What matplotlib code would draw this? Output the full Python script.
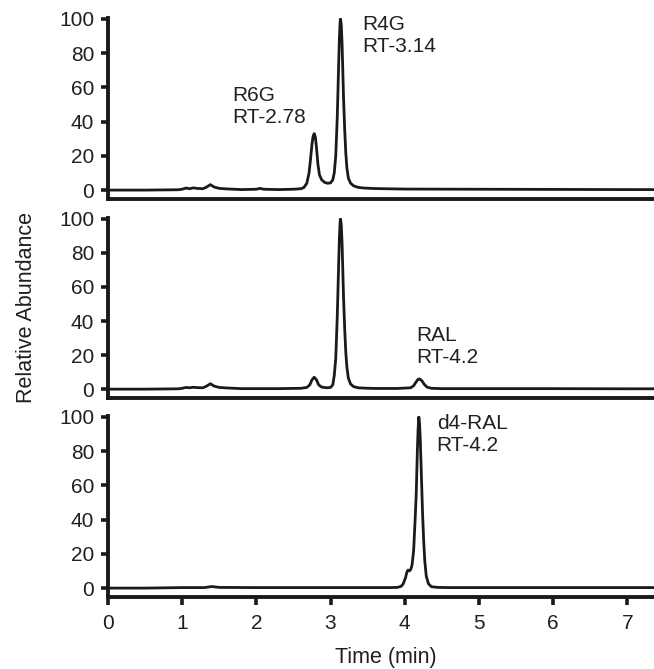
import matplotlib
matplotlib.use("Agg")
import matplotlib.pyplot as plt

# ---- data ----
t_top = [0.0, 0.5, 0.95, 1.0, 1.05, 1.1, 1.15, 1.2, 1.28, 1.33, 1.38, 1.43, 1.5, 1.6, 1.8, 2.0,
         2.05, 2.1, 2.3, 2.5, 2.6, 2.64, 2.68, 2.71, 2.73, 2.75, 2.765, 2.78, 2.795, 2.81,
         2.83, 2.85, 2.88, 2.92, 2.96, 3.0, 3.03, 3.05, 3.07, 3.09, 3.10, 3.11, 3.12, 3.13,
         3.135, 3.145, 3.155, 3.165, 3.175, 3.19, 3.205, 3.22, 3.24, 3.27, 3.31, 3.37, 3.45,
         3.6, 4.0, 5.0, 6.0, 7.0, 7.4]
y_top = [0.0, 0.0, 0.2, 0.5, 1.2, 0.8, 1.3, 1.0, 0.8, 1.8, 3.2, 1.8, 1.0, 0.7, 0.3, 0.5,
         1.0, 0.5, 0.3, 0.5, 0.8, 1.5, 4.0, 10.0, 18.0, 27.0, 31.5, 33.0, 31.0, 25.0,
         15.0, 9.0, 6.0, 4.5, 4.0, 4.2, 6.0, 10.0, 20.0, 42.0, 58.0, 75.0, 90.0, 99.0,
         100.0, 96.0, 86.0, 70.0, 54.0, 36.0, 22.0, 13.0, 7.0, 4.0, 2.5, 1.6, 1.2,
         0.9, 0.6, 0.5, 0.4, 0.3, 0.3]

t_mid = [0.0, 0.5, 0.95, 1.0, 1.05, 1.1, 1.15, 1.2, 1.28, 1.33, 1.38, 1.43, 1.5, 1.6, 1.8, 2.0,
         2.3, 2.6, 2.68, 2.72, 2.75, 2.78, 2.81, 2.84, 2.88, 2.95, 3.0, 3.03, 3.05, 3.07,
         3.09, 3.10, 3.11, 3.12, 3.13, 3.135, 3.145, 3.155, 3.165, 3.175, 3.19, 3.205, 3.22,
         3.24, 3.27, 3.31, 3.37, 3.45, 3.6, 3.9, 4.08, 4.12, 4.15, 4.18, 4.2, 4.23, 4.26,
         4.3, 4.36, 4.5, 5.0, 6.0, 7.0, 7.4]
y_mid = [0.0, 0.0, 0.2, 0.5, 1.0, 0.8, 1.1, 0.9, 0.8, 1.8, 3.2, 1.8, 1.0, 0.7, 0.3, 0.3,
         0.3, 0.5, 1.0, 2.5, 5.5, 7.0, 5.5, 2.5, 1.2, 0.8, 1.0, 2.5, 8.0, 18.0,
         42.0, 58.0, 75.0, 90.0, 99.0, 100.0, 96.0, 86.0, 70.0, 54.0, 36.0, 22.0, 13.0,
         6.5, 3.0, 1.5, 0.8, 0.6, 0.4, 0.4, 0.8, 2.0, 4.0, 5.8, 6.0, 5.0, 3.0,
         1.2, 0.5, 0.3, 0.3, 0.3, 0.2, 0.2]

t_bot = [0.0, 0.5, 1.0, 1.3, 1.4, 1.5, 2.0, 3.0, 3.8, 3.9, 3.95, 3.98, 4.01, 4.03, 4.045,
         4.06, 4.075, 4.09, 4.10, 4.12, 4.14, 4.155, 4.17, 4.18, 4.19, 4.20, 4.21, 4.225,
         4.24, 4.255, 4.27, 4.29, 4.32, 4.36, 4.45, 4.6, 5.0, 6.0, 7.0, 7.4]
y_bot = [0.0, 0.0, 0.3, 0.3, 0.9, 0.4, 0.3, 0.3, 0.3, 0.4, 1.0, 2.5, 6.0, 9.5, 10.5,
         10.0, 10.5, 12.0, 14.0, 22.0, 40.0, 55.0, 80.0, 93.0, 100.0, 96.0, 86.0, 65.0,
         44.0, 28.0, 16.0, 7.0, 2.5, 0.8, 0.4, 0.3, 0.3, 0.3, 0.3, 0.3]

top_labels = [("R6G\nRT-2.78", 1.68, 60.5), ("R4G\nRT-3.14", 3.43, 102.0)]
mid_labels = [("RAL\nRT-4.2", 4.16, 37.0)]
bot_labels = [("d4-RAL\nRT-4.2", 4.43, 101.5)]

y_ticks = [0, 20, 40, 60, 80, 100]
x_ticks = [0, 1, 2, 3, 4, 5, 6, 7]

plt.rcParams['font.family'] = ['Liberation Sans', 'DejaVu Sans']
W, H = 654, 669
fig = plt.figure(figsize=(W / 100, H / 100), dpi=100)

left = 108 / W
width = 1.0 - left
panels = [(18, 199), (218, 398), (416, 597)]
datasets = [(t_top, y_top, top_labels), (t_mid, y_mid, mid_labels), (t_bot, y_bot, bot_labels)]
ink = '#1a1a1a'
txt_col = '#231f20'

for i, ((ytop, ybot), (t, y, labels)) in enumerate(zip(panels, datasets)):
    ax = fig.add_axes([left, 1 - ybot / H, width, (ybot - ytop) / H])
    ax.plot(t, y, color=ink, lw=2.0, solid_joinstyle='round', solid_capstyle='round')
    ax.set_xlim(0, 7.36)
    ax.set_ylim(-5.2, 100.5)
    for s in ('top', 'right'):
        ax.spines[s].set_visible(False)
    for s in ('left', 'bottom'):
        ax.spines[s].set_linewidth(2.8)
        ax.spines[s].set_color(ink)
    ax.set_yticks(y_ticks)
    ax.tick_params(axis='y', length=5, width=2.6, pad=5, labelsize=15, color=ink,
                   labelcolor=txt_col)
    if i < 2:
        ax.set_xticks([])
    else:
        ax.set_xticks(x_ticks)
        ax.tick_params(axis='x', length=6, width=2.6, pad=6, labelsize=15, color=ink,
                       labelcolor=txt_col)
    for txt, x0, y0 in labels:
        ax.text(x0, y0, txt, ha='left', va='top', fontsize=15, color=txt_col,
                linespacing=1.2)
    ax.patch.set_alpha(0)

fig.text(27 / W, 1 - 307 / H, 'Relative Abundance', rotation=90, ha='center', va='center',
         fontsize=15.5, color=txt_col)
fig.text(386 / W, 1 - 658 / H, 'Time (min)', ha='center', va='center', fontsize=15.5,
         color=txt_col)

fig.savefig('out.png', dpi=100, facecolor='white')
